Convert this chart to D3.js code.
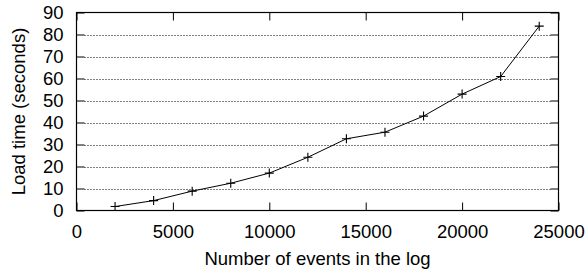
<!DOCTYPE html>
<html>
<head>
<meta charset="utf-8">
<script src="https://cdn.jsdelivr.net/npm/d3@7"></script>
<style>
  body { margin: 0; background: #fff; }
  text { font-family: "Liberation Sans", Arial, sans-serif; fill: #000; }
</style>
</head>
<body>
<svg id="chart" width="588" height="274"></svg>
<script>
const events = [2000, 4000, 6000, 8000, 10000, 12000, 14000, 16000, 18000, 20000, 22000, 24000];
const loadTime = [1.8, 4.5, 8.8, 12.4, 17.0, 24.2, 32.6, 35.6, 42.9, 52.9, 60.9, 83.8];
const xTicks = [0, 5000, 10000, 15000, 20000, 25000];
const yTicks = [0, 10, 20, 30, 40, 50, 60, 70, 80, 90];
const xLabel = "Number of events in the log";
const yLabel = "Load time (seconds)";

(function () {
const svg = d3.select("#chart");
const pL = 76.5, pR = 558.5, pT = 12.5, pB = 210.5;
const x = d3.scaleLinear().domain([0, 25000]).range([pL, pR]);
const y = d3.scaleLinear().domain([0, 90]).range([pB, pT]);
const fs = 18.5, tl = 8;

// grid
svg.append("g").selectAll("line").data(yTicks.filter(d => d > 0 && d < 90)).join("line")
  .attr("x1", pL + tl).attr("x2", pR - tl)
  .attr("y1", d => Math.round(y(d)) + 0.5).attr("y2", d => Math.round(y(d)) + 0.5)
  .attr("stroke", "#000").attr("stroke-width", 1).attr("stroke-dasharray", "1,2");

// axes via d3
const gx = svg.append("g").attr("transform", `translate(0,${pB})`)
  .call(d3.axisBottom(x).tickValues(xTicks).tickFormat(d3.format("d")).tickSizeInner(-tl).tickSizeOuter(0).tickPadding(14));
const gxTop = svg.append("g").attr("transform", `translate(0,${pT})`)
  .call(d3.axisTop(x).tickValues(xTicks).tickSizeInner(-tl).tickSizeOuter(0).tickFormat(""));
const gy = svg.append("g").attr("transform", `translate(${pL},0)`)
  .call(d3.axisLeft(y).tickValues(yTicks).tickFormat(d3.format("d")).tickSizeInner(-tl).tickSizeOuter(0).tickPadding(13));
const gyR = svg.append("g").attr("transform", `translate(${pR},0)`)
  .call(d3.axisRight(y).tickValues(yTicks).tickSizeInner(-tl).tickSizeOuter(0).tickFormat(""));
[gx, gxTop, gy, gyR].forEach(g => {
  g.select(".domain").remove();
  g.selectAll("line").attr("stroke", "#000");
  g.selectAll("text").attr("font-size", fs).attr("font-family", "Liberation Sans, Arial, sans-serif");
});

// frame
svg.append("rect").attr("x", pL).attr("y", pT).attr("width", pR - pL).attr("height", pB - pT)
  .attr("fill", "none").attr("stroke", "#000").attr("stroke-width", 1.2);

// line
const pts = events.map((e, i) => [e, loadTime[i]]);
svg.append("path").datum(pts)
  .attr("d", d3.line().x(d => x(d[0])).y(d => y(d[1])))
  .attr("fill", "none").attr("stroke", "#000").attr("stroke-width", 1);

// markers
const m = 4.5;
svg.append("g").selectAll("path").data(pts).join("path")
  .attr("d", d => {
    const cx = x(d[0]), cy = y(d[1]);
    return `M${cx - m},${cy}H${cx + m}M${cx},${cy - m}V${cy + m}`;
  })
  .attr("stroke", "#000").attr("stroke-width", 1.1).attr("fill", "none");

// labels
svg.append("text").attr("x", (pL + pR) / 2).attr("y", 265)
  .attr("text-anchor", "middle").attr("font-size", fs).text(xLabel);
svg.append("text").attr("transform", `translate(25,${(pT + pB) / 2}) rotate(-90)`)
  .attr("text-anchor", "middle").attr("font-size", fs).text(yLabel);
})();
</script>
</body>
</html>
